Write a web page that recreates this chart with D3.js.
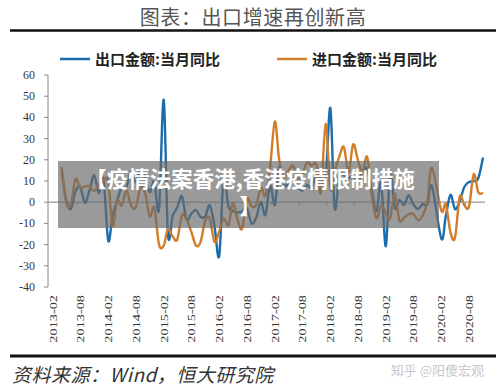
<!DOCTYPE html>
<html>
<head>
<meta charset="utf-8">
<script src="https://cdn.jsdelivr.net/npm/d3@7/dist/d3.min.js"></script>
<style>
  body { margin: 0; background: #fff; }
  svg { display: block; }
</style>
</head>
<body>
<div class="chart"></div>
<script>
// monthly series, first month 2013-04 (2020-01 is reported together with 2020-02)
var startMonth = "2013-04";

var exportYoY = [
  14.7, 1.0, -3.1, 5.1, 7.2, -0.3, 5.6, 12.7, 4.3,
  10.6, -18.1, -6.6, 0.9, 7.0, 7.2, 14.5, 9.4, 15.3, 11.6, 4.7, 9.7,
  -3.3, 48.3, -15.0, -6.4, -2.5, 2.8, -8.3, -5.5, -3.7, -6.9, -6.8, -1.4,
  -11.2, -25.4, 11.5, -1.8, -4.1, -4.8, -4.4, -2.8, -10.0, -7.3, 0.1, -6.1,
  7.9, -1.3, 16.4, 8.0, 8.7, 11.3, 7.2, 5.5, 8.1, 6.9, 12.3, 10.9,
  11.1, 44.5, -2.7, 12.9, 12.6, 11.3, 12.2, 9.8, 14.5, 15.6, 5.4, -4.4,
  9.1, -20.8, 14.2, -2.7, 1.1, -1.3, 3.3, -1.0, -3.2, -0.9, -1.1, 7.6,
  null, -17.2, -6.6, 3.5, -3.3, 0.5, 7.2, 9.5, 9.9, 11.4, 21.1
];

var importYoY = [
  16.8, -0.3, -0.7, 10.9, 7.0, 7.4, 7.6, 5.3, 8.3,
  10.0, 10.1, -11.3, 0.8, -1.6, 5.5, -1.6, -2.4, 7.0, 4.6, -6.7, -2.4,
  -19.9, -20.5, -12.7, -16.2, -17.6, -6.1, -8.1, -13.8, -20.4, -18.8, -8.7, -7.6,
  -18.8, -13.8, -7.6, -10.9, -0.4, -8.4, -12.5, 1.5, -1.9, -1.4, 6.7, 3.1,
  16.7, 38.1, 20.3, 11.9, 14.8, 17.2, 11.0, 13.3, 18.7, 17.2, 17.7, 4.5,
  36.9, 6.3, 14.4, 21.5, 26.0, 14.1, 27.3, 20.0, 14.3, 21.4, 3.0, -7.6,
  -1.5, -5.2, -7.6, 4.0, -8.5, -7.3, -5.6, -5.6, -8.5, -6.4, 0.3, 16.3,
  null, -4.0, -0.9, -14.2, -16.7, 2.7, -1.4, -2.1, 13.2, 4.7, 4.5
];

var tickLabels = ["2013-02", "2013-08", "2014-02", "2014-08", "2015-02", "2015-08",
  "2016-02", "2016-08", "2017-02", "2017-08", "2018-02", "2018-08",
  "2019-02", "2019-08", "2020-02", "2020-08"];

var yTicks = [60, 50, 40, 30, 20, 10, 0, -10, -20, -30, -40];

var seriesNames = ["出口金额:当月同比", "进口金额:当月同比"];
var colors = ["#1b6cab", "#d27d2a"];

var width = 500, height = 389;
var parseMonth = d3.timeParse("%Y-%m");

var svg = d3.select(".chart").append("svg")
  .attr("width", width)
  .attr("height", height);

var xScale = d3.scaleTime()
  .domain([parseMonth("2013-01"), parseMonth("2020-11")])
  .range([48, 483]);

var yScale = d3.scaleLinear()
  .domain([-40, 60])
  .range([287, 75]);

function toPoints(values){
  var start = parseMonth(startMonth);
  return values.map(function(v, i){
    return {date: d3.timeMonth.offset(start, i), value: v};
  }).filter(function(d){ return d.value != null; });
}

// title + rule
svg.append("text")
  .attr("x", 253)
  .attr("y", 25)
  .attr("text-anchor", "middle")
  .style("font-family", "'Noto Sans CJK SC', sans-serif")
  .style("font-size", "20px")
  .style("letter-spacing", "0.6px")
  .attr("fill", "#555")
  .text("图表：出口增速再创新高");

svg.append("line")
  .attr("x1", 10).attr("x2", 496)
  .attr("y1", 30.5).attr("y2", 30.5)
  .attr("stroke", "#111").attr("stroke-width", 2.5);

// legend
var legendX = [60, 277];
seriesNames.forEach(function(name, i){
  svg.append("line")
    .attr("x1", legendX[i]).attr("x2", legendX[i] + 30)
    .attr("y1", 59).attr("y2", 59)
    .attr("stroke", colors[i]).attr("stroke-width", 2.5);
  svg.append("text")
    .attr("x", legendX[i] + 35)
    .attr("y", 65)
    .style("font-family", "'Noto Sans CJK SC', sans-serif")
    .style("font-size", "15px")
    .style("font-weight", "bold")
    .attr("fill", "#222")
    .text(name);
});

// y axis
svg.append("line")
  .attr("x1", 48).attr("x2", 48)
  .attr("y1", yScale(60)).attr("y2", yScale(-40))
  .attr("stroke", "#888").attr("stroke-width", 1);

svg.selectAll(".ytick")
  .data(yTicks)
  .enter()
  .append("line")
  .attr("class", "ytick")
  .attr("x1", 44).attr("x2", 48)
  .attr("y1", function(d){ return yScale(d); })
  .attr("y2", function(d){ return yScale(d); })
  .attr("stroke", "#888");

svg.selectAll(".ylabel")
  .data(yTicks)
  .enter()
  .append("text")
  .attr("class", "ylabel")
  .attr("x", 35)
  .attr("y", function(d){ return yScale(d) + 4; })
  .attr("text-anchor", "end")
  .style("font-family", "'Liberation Serif', serif")
  .style("font-size", "12px")
  .attr("fill", "#333")
  .text(function(d){ return d; });

// zero line with small ticks
svg.append("line")
  .attr("x1", 48).attr("x2", 485)
  .attr("y1", yScale(0)).attr("y2", yScale(0))
  .attr("stroke", "#999").attr("stroke-width", 1.2);

svg.selectAll(".xtick")
  .data(tickLabels.slice(1))
  .enter()
  .append("line")
  .attr("class", "xtick")
  .attr("x1", function(d){ return xScale(parseMonth(d)) - 3.5; })
  .attr("x2", function(d){ return xScale(parseMonth(d)) - 3.5; })
  .attr("y1", yScale(0)).attr("y2", yScale(0) + 3)
  .attr("stroke", "#999");

// x labels, rotated and a bit stretched like the source
svg.selectAll(".xlabel")
  .data(tickLabels)
  .enter()
  .append("text")
  .attr("class", "xlabel")
  .attr("transform", function(d){
    return "translate(" + (xScale(parseMonth(d)) + 4) + ",295) rotate(-90) scale(1.3,1)";
  })
  .attr("text-anchor", "end")
  .style("font-family", "'Liberation Serif', serif")
  .style("font-size", "11px")
  .attr("fill", "#333")
  .text(function(d){ return d; });

// the two lines
var line = d3.line()
  .x(function(d){ return xScale(d.date); })
  .y(function(d){ return yScale(d.value); })
  .curve(d3.curveCatmullRom.alpha(0));

[exportYoY, importYoY].forEach(function(vals, i){
  svg.append("path")
    .datum(toPoints(vals))
    .attr("fill", "none")
    .attr("stroke", colors[i])
    .attr("stroke-width", 2.4)
    .attr("stroke-linejoin", "round")
    .attr("d", line);
});

// grey banner over the plot
svg.append("rect")
  .attr("x", 58).attr("y", 161)
  .attr("width", 381).attr("height", 67)
  .attr("fill", "#6a6a6a")
  .attr("fill-opacity", 0.68);

var bannerText = ["【疫情法案香港,香港疫情限制措施", "】"];
svg.selectAll(".banner")
  .data(bannerText)
  .enter()
  .append("text")
  .attr("class", "banner")
  .attr("x", 250)
  .attr("y", function(d, i){ return 187 + i * 27; })
  .attr("text-anchor", "middle")
  .style("font-family", "'Noto Sans CJK SC', sans-serif")
  .style("font-size", "21.5px")
  .style("font-weight", "bold")
  .attr("fill", "#fff")
  .text(function(d){ return d; });

// footer
svg.append("line")
  .attr("x1", 10).attr("x2", 496)
  .attr("y1", 356).attr("y2", 356)
  .attr("stroke", "#111").attr("stroke-width", 3);

svg.append("text")
  .attr("x", 12)
  .attr("y", 382)
  .style("font-family", "'Noto Sans CJK SC', sans-serif")
  .style("font-size", "19px")
  .style("letter-spacing", "0.5px")
  .style("font-style", "italic")
  .attr("fill", "#333")
  .text("资料来源：Wind，恒大研究院");

svg.append("text")
  .attr("x", 484)
  .attr("y", 375)
  .attr("text-anchor", "end")
  .style("font-family", "'Noto Sans CJK SC', sans-serif")
  .style("font-size", "13px")
  .attr("fill", "#c8c8c8")
  .text("知乎 @阳傻宏观");
</script>
</body>
</html>
